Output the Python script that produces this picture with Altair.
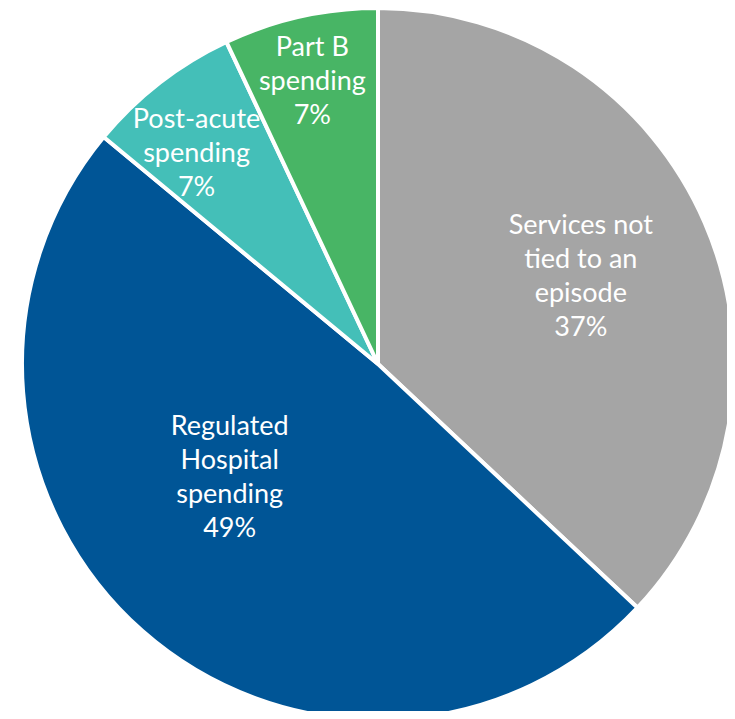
import altair as alt
import pandas as pd

categories = ["Services not tied to an episode", "Regulated Hospital spending", "Post-acute spending", "Part B spending"]
labels = ["Services not\ntied to an\nepisode\n37%", "Regulated\nHospital\nspending\n49%", "Post-acute\nspending\n7%", "Part B\nspending\n7%"]
values = [37, 49, 7, 7]
colors = ["#A5A5A5", "#005596", "#44BFB8", "#48B565"]

df = pd.DataFrame({"category": categories, "label": labels, "value": values, "order": list(range(len(values)))})

CX, CY, R = 370, 356, 356
total = sum(values)

pie = alt.Chart(df).mark_arc(outerRadius=R, stroke="white", strokeWidth=4, x=CX, y=CY).encode(
    theta=alt.Theta("value:Q", stack=True),
    order=alt.Order("order:Q"),
    color=alt.Color("category:N", scale=alt.Scale(domain=categories, range=colors), legend=None),
)

lab_base = alt.Chart(df).transform_window(
    cum="sum(value)", sort=[alt.SortField("order")]
).transform_calculate(mid="datum.cum - datum.value / 2")

def lab(cat, r, dx=0, dy=0):
    return lab_base.transform_filter(alt.datum.category == cat).mark_text(
        radius=r, x=CX, y=CY, dx=dx, dy=dy, color="white", font="Lato", fontSize=27,
        lineBreak="\n", lineHeight=34, align="center", baseline="middle"
    ).encode(
        theta=alt.Theta("mid:Q", stack=False, scale=alt.Scale(domain=[0, total])),
        text="label:N",
    )

chart = alt.layer(
    pie,
    lab(categories[0], 221, 0, -50),
    lab(categories[1], 185, -26, -76),
    lab(categories[2], 283, -8, -20),
    lab(categories[3], 292, -2, -31),
).resolve_scale(theta="independent").properties(
    width=719, height=703, padding=0, autosize="none"
).configure_view(stroke=None)

chart.save("out.html", embed_options={"renderer": "svg", "actions": False})
